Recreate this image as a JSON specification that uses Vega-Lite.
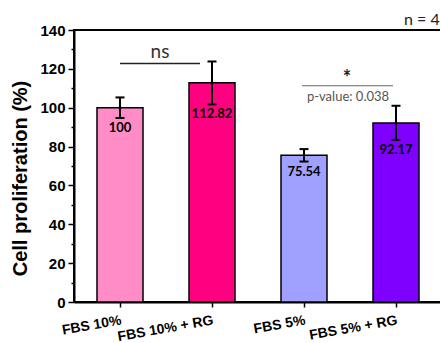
{
  "$schema": "https://vega.github.io/schema/vega-lite/v6.json",
  "width": 368,
  "height": 272,
  "autosize": "none",
  "padding": {"left": 74, "top": 30, "right": 0, "bottom": 41},
  "background": "white",
  "config": {
    "view": {"stroke": "black", "strokeWidth": 2},
    "axis": {"domainColor": "black", "domainWidth": 2, "tickColor": "black", "tickWidth": 1.5, "grid": false},
    "axisY": {
      "tickCount": 14,
      "labelExpr": "datum.value % 20 == 0 ? datum.label : ''",
      "labelOverlap": false,
      "labelBound": false,
      "labelFlush": false,
      "tickSize": {"condition": {"test": "datum.value % 20 == 0", "value": 6}, "value": 3},
      "labelFont": "Liberation Sans", "labelFontSize": 15, "labelFontWeight": "bold", "labelColor": "black", "labelPadding": 3
    }
  },
  "datasets": {
    "bars": [
      {"group": "FBS 10%", "value": 100, "low": 94.7, "high": 105.3, "label": "100"},
      {"group": "FBS 10% + RG", "value": 112.82, "low": 101.7, "high": 123.8, "label": "112.82"},
      {"group": "FBS 5%", "value": 75.54, "low": 72.3, "high": 78.7, "label": "75.54"},
      {"group": "FBS 5% + RG", "value": 92.17, "low": 83.4, "high": 101.0, "label": "92.17"}
    ]
  },
  "layer": [
    {
      "data": {"name": "bars"},
      "mark": {"type": "bar", "stroke": "black", "strokeWidth": 1.5},
      "encoding": {
        "x": {
          "field": "group", "type": "nominal", "sort": null,
          "scale": {"paddingInner": 0.5, "paddingOuter": 0.25},
          "axis": {"title": null, "labelAngle": -10, "labelFont": "Liberation Sans", "labelFontWeight": "bold", "labelFontSize": 14, "labelColor": "black", "tickSize": 5, "labelPadding": 6}
        },
        "y": {
          "field": "value", "type": "quantitative",
          "scale": {"domain": [0, 140], "nice": false},
          "axis": {
            "title": "Cell proliferation (%)",
            "titleFont": "Liberation Sans", "titleFontSize": 20, "titleFontWeight": "bold", "titleColor": "black",
            "titleAngle": -90, "titleX": -54, "titleY": 148, "titleAlign": "center", "titleBaseline": "middle"
          }
        },
        "fill": {
          "field": "group", "type": "nominal", "sort": null, "legend": null,
          "scale": {"range": ["#ff8cc6", "#ff0080", "#a0a0ff", "#8000ff"]}
        }
      }
    },
    {
      "data": {"name": "bars"},
      "mark": {"type": "rule", "strokeWidth": 2, "color": "black"},
      "encoding": {
        "x": {"field": "group", "type": "nominal", "sort": null},
        "y": {"field": "low", "type": "quantitative"},
        "y2": {"field": "high"}
      }
    },
    {
      "data": {"name": "bars"},
      "mark": {"type": "tick", "size": 9, "thickness": 2, "color": "black", "opacity": 1},
      "encoding": {
        "x": {"field": "group", "type": "nominal", "sort": null},
        "y": {"field": "high", "type": "quantitative"}
      }
    },
    {
      "data": {"name": "bars"},
      "mark": {"type": "tick", "size": 9, "thickness": 2, "color": "black", "opacity": 1},
      "encoding": {
        "x": {"field": "group", "type": "nominal", "sort": null},
        "y": {"field": "low", "type": "quantitative"}
      }
    },
    {
      "data": {"name": "bars"},
      "mark": {"type": "text", "font": "Lato", "fontWeight": "bold", "fontSize": 13, "baseline": "top", "dy": 4, "color": "black"},
      "encoding": {
        "x": {"field": "group", "type": "nominal", "sort": null},
        "y": {"field": "low", "type": "quantitative"},
        "text": {"field": "label"}
      }
    },
    {
      "data": {"values": [{"from": "FBS 10%", "to": "FBS 10% + RG", "y": 122.8}]},
      "mark": {"type": "rule", "strokeWidth": 1.5, "color": "#222", "x2Offset": -12},
      "encoding": {
        "x": {"field": "from", "type": "nominal", "sort": null},
        "x2": {"field": "to"},
        "y": {"field": "y", "type": "quantitative"}
      }
    },
    {
      "data": {"values": [{"from": "FBS 5%", "to": "FBS 5% + RG", "y": 111.3}]},
      "mark": {"type": "rule", "strokeWidth": 1, "color": "#666", "xOffset": -2, "x2Offset": -3},
      "encoding": {
        "x": {"field": "from", "type": "nominal", "sort": null},
        "x2": {"field": "to"},
        "y": {"field": "y", "type": "quantitative"}
      }
    },
    {
      "data": {"values": [{"g": "FBS 10%", "y": 128.5, "t": "ns"}]},
      "mark": {"type": "text", "font": "Lato", "fontSize": 19, "baseline": "middle", "dx": 40, "color": "#333"},
      "encoding": {
        "x": {"field": "g", "type": "nominal", "sort": null},
        "y": {"field": "y", "type": "quantitative"},
        "text": {"field": "t"}
      }
    },
    {
      "data": {"values": [{"g": "FBS 5%", "y": 115.0, "t": "*"}]},
      "mark": {"type": "text", "font": "Lato", "fontSize": 20, "fontWeight": "bold", "baseline": "middle", "dx": 43, "color": "#222"},
      "encoding": {
        "x": {"field": "g", "type": "nominal", "sort": null},
        "y": {"field": "y", "type": "quantitative"},
        "text": {"field": "t"}
      }
    },
    {
      "data": {"values": [{"g": "FBS 5%", "y": 105.7, "t": "p-value: 0.038"}]},
      "mark": {"type": "text", "font": "Lato", "fontSize": 13, "baseline": "middle", "dx": 44, "color": "#555"},
      "encoding": {
        "x": {"field": "g", "type": "nominal", "sort": null},
        "y": {"field": "y", "type": "quantitative"},
        "text": {"field": "t"}
      }
    },
    {
      "data": {"values": [{"g": "FBS 5% + RG", "y": 145, "t": "n = 4"}]},
      "mark": {"type": "text", "font": "Lato", "fontSize": 16, "align": "left", "baseline": "middle", "dx": 8, "color": "#222"},
      "encoding": {
        "x": {"field": "g", "type": "nominal", "sort": null},
        "y": {"field": "y", "type": "quantitative"},
        "text": {"field": "t"}
      }
    }
  ]
}
